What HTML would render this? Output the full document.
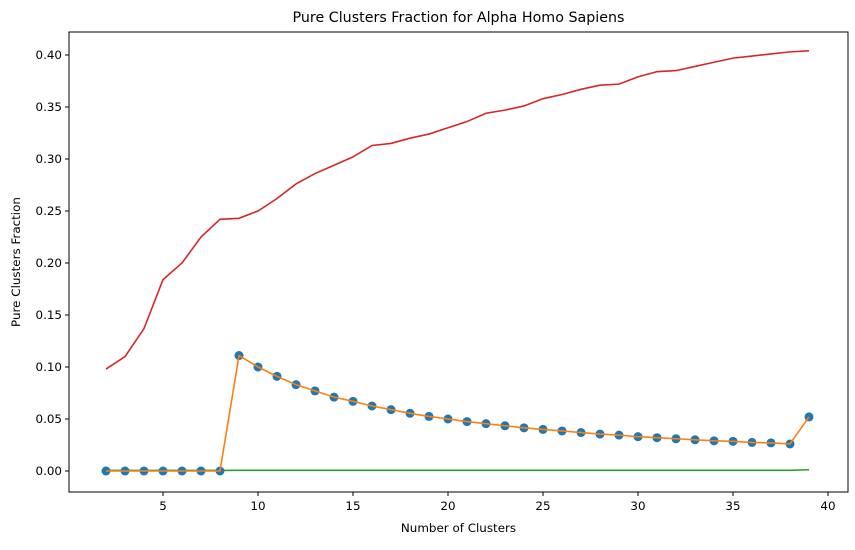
<!DOCTYPE html>
<html><head><meta charset="utf-8"><style>
body{margin:0;background:#fff;}
svg text{font-family:"DejaVu Sans","Liberation Sans",sans-serif;fill:#000;}
</style></head><body>
<svg id="chart" width="855" height="545" xmlns="http://www.w3.org/2000/svg"></svg>
<script>
const clusters=[2,3,4,5,6,7,8,9,10,11,12,13,14,15,16,17,18,19,20,21,22,23,24,25,26,27,28,29,30,31,32,33,34,35,36,37,38,39];
const redValues=[0.098,0.110,0.137,0.184,0.200,0.225,0.242,0.243,0.250,0.262,0.276,0.286,0.294,0.302,0.313,0.315,0.320,0.324,0.330,0.336,0.344,0.347,0.351,0.358,0.362,0.367,0.371,0.372,0.379,0.384,0.385,0.389,0.393,0.397,0.399,0.401,0.403,0.404];
const blueValues=[0,0,0,0,0,0,0,0.111,0.100,0.091,0.083,0.077,0.071,0.067,0.0625,0.059,0.0555,0.0525,0.050,0.0475,0.0455,0.0435,0.0415,0.040,0.0385,0.037,0.0355,0.0345,0.033,0.032,0.031,0.030,0.029,0.0285,0.0275,0.027,0.026,0.052];
const greenValues=[0.0005,0.0005,0.0005,0.0005,0.0005,0.0005,0.0005,0.0007,0.0007,0.0007,0.0007,0.0007,0.0007,0.0007,0.0007,0.0007,0.0007,0.0007,0.0007,0.0007,0.0007,0.0007,0.0007,0.0007,0.0007,0.0007,0.0007,0.0007,0.0007,0.0007,0.0007,0.0007,0.0007,0.0007,0.0007,0.0007,0.0007,0.0012];
const xTicks=[5,10,15,20,25,30,35,40];
const yTicks=[0,0.05,0.10,0.15,0.20,0.25,0.30,0.35,0.40];

const svg=document.getElementById('chart');
const NS='http://www.w3.org/2000/svg';
const L=69,R=848,T=32,B=492;
const xs=v=>106+(v-2)*19;
const ys=v=>471-v*1040;
function mk(tag,attrs,parent){const e=document.createElementNS(NS,tag);for(const k in attrs)e.setAttribute(k,attrs[k]);(parent||svg).appendChild(e);return e;}

const frame=mk('rect',{x:L,y:T,width:R-L,height:B-T,fill:'none',stroke:'#000','stroke-width':1});



xTicks.forEach(t=>{
  const x=xs(t);
  const ln=mk('line',{x1:x,x2:x,y1:B,y2:B+4,stroke:'#000'});
  
  
  const tx=mk('text',{x:x,y:B+18,'text-anchor':'middle','font-size':11.9});
  tx.textContent=t;
  
  
});
yTicks.forEach(t=>{
  const y=ys(t);
  const ln=mk('line',{x1:L-4,x2:L,y1:y,y2:y,stroke:'#000'});
  
  
  const tx=mk('text',{x:L-7,y:y+4,'text-anchor':'end','font-size':11.9});
  tx.textContent=t.toFixed(2);
  
  
});

function line(vals,color,name){
  const p=mk('polyline',{points:vals.map((v,i)=>xs(clusters[i])+','+ys(v)).join(' '),fill:'none',stroke:color,'stroke-width':1.6});
  
  
}
line(redValues,'#d62728','red-series-line');
line(greenValues,'#2ca02c','green-series-line');
blueValues.forEach((v,i)=>{
  const c=mk('circle',{cx:xs(clusters[i]),cy:ys(v),r:4.5,fill:'#1f77b4'});
  
  
});
line(blueValues,'#ff7f0e','orange-series-line');

const title=mk('text',{x:(L+R)/2,y:22,'text-anchor':'middle','font-size':14.25});
title.textContent='Pure Clusters Fraction for Alpha Homo Sapiens';


const xl=mk('text',{x:(L+R)/2,y:532,'text-anchor':'middle','font-size':11.9});
xl.textContent='Number of Clusters';


const yl=mk('text',{x:20,y:(T+B)/2,'text-anchor':'middle','font-size':11.9,transform:'rotate(-90 20 '+((T+B)/2)+')'});
yl.textContent='Pure Clusters Fraction';


</script>
</body></html>
